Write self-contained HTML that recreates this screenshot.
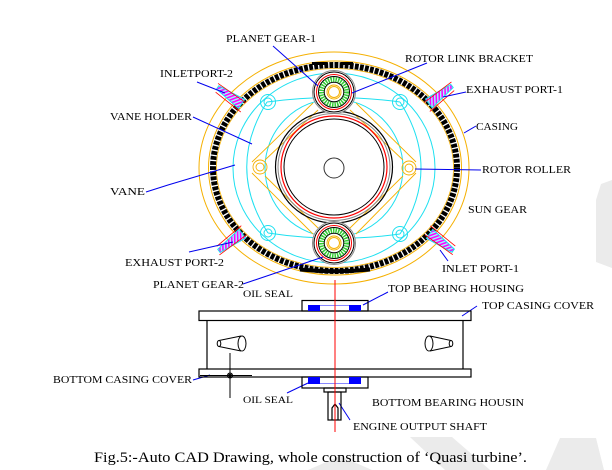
<!DOCTYPE html>
<html><head><meta charset="utf-8">
<style>
html,body{margin:0;padding:0;background:#fff;}
svg{display:block;}
text{font-family:"Liberation Serif",serif;fill:#000;}
</style></head><body>
<svg width="612" height="470" viewBox="0 0 612 470" xmlns="http://www.w3.org/2000/svg">
<defs>
<pattern id="mh" width="3" height="3" patternUnits="userSpaceOnUse" patternTransform="rotate(35)">
<rect width="3" height="3" fill="#9ff"/>
<line x1="0.8" y1="0" x2="0.8" y2="3" stroke="#ff00ff" stroke-width="1.6"/>
</pattern>
</defs>

<!-- watermark -->
<g fill="#ebebeb">
<path d="M612,180 L601,184 L596,200 L596,262 L612,268 Z"/>
<polygon points="410,437 452,437 490,470 445,470"/>
<polygon points="560,438 596,438 604,470 546,470"/>
<polygon points="308,470 340,456 372,470"/>
</g>

<!-- casing -->
<g fill="none">
<ellipse cx="334" cy="168" rx="135" ry="116" stroke="#f5b000" stroke-width="1"/>
<ellipse cx="335" cy="168" rx="126.5" ry="107" stroke="#f5b000" stroke-width="1"/>
<ellipse cx="335" cy="168" rx="122" ry="103" stroke="#000" stroke-width="6" stroke-dasharray="3.8 1.3"/>
<ellipse cx="335" cy="168" rx="118.5" ry="99.5" stroke="#f5b000" stroke-width="0.8"/>
</g>
<rect x="312" y="62" width="15" height="3" fill="#000"/>
<rect x="341" y="62" width="12" height="3" fill="#000"/>
<path d="M300,269.5 Q335,273 370,269.5" stroke="#000" stroke-width="4" fill="none"/>

<!-- cyan vane holder -->
<g fill="none" stroke="#1ee0f0" stroke-width="1">
<ellipse cx="334" cy="168" rx="101" ry="95"/>
<circle cx="334" cy="168" r="69"/>
<path d="M267,102 Q226,168 268,233"/>
<path d="M400,102 Q442,168 400,234"/>
<path d="M267,102 Q334,93 400,102"/>
<path d="M268,233 Q334,243 400,234"/>
<circle cx="268" cy="102" r="7.5"/><circle cx="268" cy="102" r="4"/>
<circle cx="400" cy="102" r="7.5"/><circle cx="400" cy="102" r="4"/>
<circle cx="268" cy="233" r="7.5"/><circle cx="268" cy="233" r="4"/>
<circle cx="400" cy="234" r="7.5"/><circle cx="400" cy="234" r="4"/>
</g>

<!-- yellow diamond & rollers -->
<g fill="none" stroke="#f5b000" stroke-width="0.9">
<path d="M252,162 L313,103 M265,160 L318,110"/>
<path d="M416,162 L356,103 M403,160 L350,110"/>
<path d="M252,173 L313,234 M265,176 L318,228"/>
<path d="M416,173 L356,234 M403,176 L350,228"/>
<circle cx="260" cy="167" r="7"/><circle cx="260" cy="167" r="4"/>
<circle cx="409" cy="168" r="7"/><circle cx="409" cy="168" r="4"/>
</g>

<!-- rotor -->
<g fill="none">
<ellipse cx="334" cy="167" rx="58.5" ry="56" stroke="#000" stroke-width="1.2"/>
<ellipse cx="334" cy="167" rx="56" ry="53.5" stroke="#888" stroke-width="1"/>
<ellipse cx="334" cy="167" rx="53" ry="51" stroke="#f00" stroke-width="1.2"/>
<ellipse cx="334" cy="167" rx="50" ry="48" stroke="#000" stroke-width="1"/>
<circle cx="334" cy="168" r="10" stroke="#333" stroke-width="1"/>
</g>

<!-- planet gears -->
<g fill="none" transform="translate(334,92)">
<circle r="21.5" stroke="#888" fill="#fff"/>
<circle r="20" stroke="#000"/>
<circle r="17.5" stroke="#f00"/>
<circle r="15.5" stroke="#000"/>
<circle r="12.5" stroke="#33cc33" stroke-width="5" stroke-dasharray="1.5 1"/>
<circle r="9.8" stroke="#000"/>
<circle r="7" stroke="#f5b000"/>
<circle r="5.5" stroke="#f5b000"/>
</g>
<g fill="none" transform="translate(334,243)">
<circle r="21.5" stroke="#888" fill="#fff"/>
<circle r="20" stroke="#000"/>
<circle r="17.5" stroke="#f00"/>
<circle r="15.5" stroke="#000"/>
<circle r="12.5" stroke="#33cc33" stroke-width="5" stroke-dasharray="1.5 1"/>
<circle r="9.8" stroke="#000"/>
<circle r="7" stroke="#f5b000"/>
<circle r="5.5" stroke="#f5b000"/>
</g>

<!-- ports -->
<g transform="translate(230,96) rotate(34.7)">
<polygon points="-15,-2 14,-5.5 14,5.5 -15,2" fill="url(#mh)" stroke="#1ee0f0" stroke-width="1"/>
<line x1="-17" y1="-3.5" x2="17" y2="-3.5" stroke="#f00" stroke-width="0.8"/>
<line x1="-14" y1="5" x2="18" y2="7" stroke="#f00" stroke-width="0.8"/>
</g>
<g transform="translate(440,95) rotate(143)">
<polygon points="-15,-2 14,-5.5 14,5.5 -15,2" fill="url(#mh)" stroke="#1ee0f0" stroke-width="1"/>
<line x1="-17" y1="3.5" x2="17" y2="3.5" stroke="#f00" stroke-width="0.8"/>
<line x1="-14" y1="-5" x2="18" y2="-7" stroke="#f00" stroke-width="0.8"/>
</g>
<g transform="translate(231,242) rotate(-36.5)">
<polygon points="-15,-2 14,-5.5 14,5.5 -15,2" fill="url(#mh)" stroke="#1ee0f0" stroke-width="1"/>
<line x1="-17" y1="3.5" x2="17" y2="3.5" stroke="#f00" stroke-width="0.8"/>
<line x1="-14" y1="-5" x2="18" y2="-7" stroke="#f00" stroke-width="0.8"/>
</g>
<g transform="translate(441,242) rotate(-144.5)">
<polygon points="-15,-2 14,-5.5 14,5.5 -15,2" fill="url(#mh)" stroke="#1ee0f0" stroke-width="1"/>
<line x1="-17" y1="-3.5" x2="17" y2="-3.5" stroke="#f00" stroke-width="0.8"/>
<line x1="-14" y1="5" x2="18" y2="7" stroke="#f00" stroke-width="0.8"/>
</g>

<!-- leader lines -->
<g stroke="#0000ee" stroke-width="1" fill="none">
<line x1="273" y1="46" x2="318" y2="86"/>
<line x1="197" y1="82" x2="225" y2="93"/>
<line x1="193" y1="117" x2="252" y2="144"/>
<line x1="427" y1="63" x2="352" y2="93"/>
<line x1="443" y1="97" x2="466" y2="92"/>
<line x1="476" y1="126" x2="464" y2="133"/>
<line x1="415" y1="169" x2="481" y2="170"/>
<line x1="440" y1="250" x2="448" y2="261"/>
<polyline points="146,192 168,185 235,165"/>
<line x1="189" y1="252" x2="233" y2="242"/>
<line x1="243" y1="284" x2="323" y2="257"/>
<line x1="388" y1="292" x2="363" y2="305"/>
<line x1="477" y1="306" x2="462" y2="316"/>
<line x1="193" y1="380" x2="210" y2="375"/>
<line x1="287" y1="393" x2="308" y2="383"/>
<line x1="350" y1="420" x2="339" y2="403"/>
</g>

<!-- lower side view -->
<line x1="335" y1="280" x2="335" y2="432" stroke="#f00" stroke-width="1"/>
<g stroke="#000" stroke-width="1.2" fill="none">
<rect x="199" y="311" width="272" height="9.5"/>
<rect x="199" y="369" width="272" height="8"/>
<line x1="207" y1="320.5" x2="207" y2="369"/>
<line x1="463" y1="320.5" x2="463" y2="369"/>
<rect x="302" y="300.5" width="66" height="10.5"/>
<rect x="302" y="377" width="66" height="11"/>
<rect x="324" y="388" width="22" height="4"/>
<rect x="328" y="392" width="13" height="28"/>
<path d="M332,420 V408 L335,404 L338,408 V420"/>
</g>
<g fill="#0000ff">
<rect x="308" y="305" width="12" height="6"/>
<rect x="349" y="305" width="12" height="6"/>
<rect x="308" y="377" width="12" height="7"/>
<rect x="349" y="377" width="12" height="7"/>
</g>
<g stroke="#8888ff" stroke-width="1">
<line x1="320" y1="305.5" x2="349" y2="305.5"/>
<line x1="320" y1="383.5" x2="349" y2="383.5"/>
</g>
<line x1="335" y1="300" x2="335" y2="432" stroke="#f00" stroke-width="1"/>
<g stroke="#000" stroke-width="1" fill="none">
<ellipse cx="242" cy="343.5" rx="4" ry="7.5"/>
<path d="M219,340.5 L241,336 M219,346.5 L241,351"/>
<ellipse cx="219" cy="343.5" rx="1.8" ry="3"/>
<ellipse cx="429" cy="343.5" rx="4" ry="7.5"/>
<path d="M430,336 L451,340.5 M430,351 L451,346.5"/>
<ellipse cx="451" cy="343.5" rx="1.8" ry="3"/>
<line x1="230" y1="353" x2="230" y2="398"/>
<line x1="200" y1="375.5" x2="252" y2="375.5"/>
<circle cx="230" cy="375.5" r="2.5"/>
<path d="M228,373.5 L232,377.5 M232,373.5 L228,377.5"/>
</g>

<!-- labels -->
<g font-size="10.5">
<text x="226" y="42" textLength="90" lengthAdjust="spacingAndGlyphs">PLANET GEAR-1</text>
<text x="160" y="77" textLength="73" lengthAdjust="spacingAndGlyphs">INLETPORT-2</text>
<text x="110" y="120" textLength="82" lengthAdjust="spacingAndGlyphs">VANE HOLDER</text>
<text x="405" y="62" textLength="128" lengthAdjust="spacingAndGlyphs">ROTOR LINK BRACKET</text>
<text x="466" y="93" textLength="97" lengthAdjust="spacingAndGlyphs">EXHAUST PORT-1</text>
<text x="476" y="130" textLength="42" lengthAdjust="spacingAndGlyphs">CASING</text>
<text x="482" y="173" textLength="89" lengthAdjust="spacingAndGlyphs">ROTOR ROLLER</text>
<text x="468" y="213" textLength="59" lengthAdjust="spacingAndGlyphs">SUN GEAR</text>
<text x="442" y="272" textLength="77" lengthAdjust="spacingAndGlyphs">INLET PORT-1</text>
<text x="110" y="195" textLength="35" lengthAdjust="spacingAndGlyphs">VANE</text>
<text x="125" y="266" textLength="99" lengthAdjust="spacingAndGlyphs">EXHAUST PORT-2</text>
<text x="153" y="288" textLength="91" lengthAdjust="spacingAndGlyphs">PLANET GEAR-2</text>
<text x="243" y="297" font-size="9.5" textLength="50" lengthAdjust="spacingAndGlyphs">OIL SEAL</text>
<text x="388" y="292" textLength="136" lengthAdjust="spacingAndGlyphs">TOP BEARING HOUSING</text>
<text x="482" y="309" textLength="112" lengthAdjust="spacingAndGlyphs">TOP CASING COVER</text>
<text x="53" y="383" textLength="139" lengthAdjust="spacingAndGlyphs">BOTTOM CASING COVER</text>
<text x="243" y="403" font-size="9.5" textLength="50" lengthAdjust="spacingAndGlyphs">OIL SEAL</text>
<text x="372" y="406" textLength="152" lengthAdjust="spacingAndGlyphs">BOTTOM BEARING HOUSIN</text>
<text x="353" y="430" textLength="134" lengthAdjust="spacingAndGlyphs">ENGINE OUTPUT SHAFT</text>
</g>

<text x="94" y="462" font-size="15" textLength="433" lengthAdjust="spacingAndGlyphs">Fig.5:-Auto CAD Drawing, whole construction of ‘Quasi turbine’.</text>
</svg>
</body></html>
